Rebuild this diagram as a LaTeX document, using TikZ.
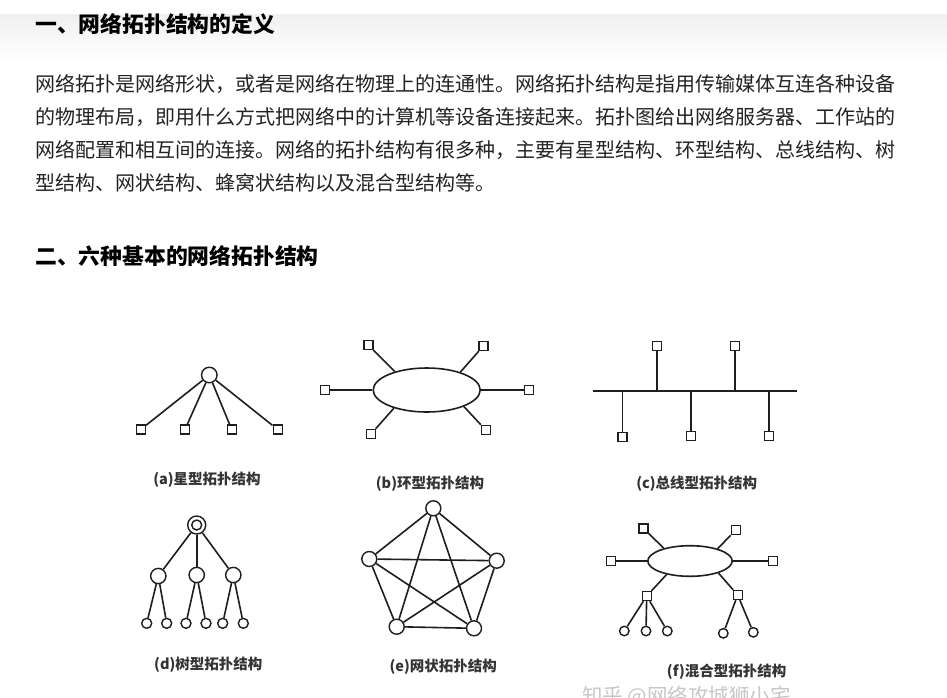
\documentclass[tikz,border=0pt]{standalone}
\usepackage{fontspec}
\setmainfont{Noto Sans CJK SC}
\usetikzlibrary{shapes.geometric}
\definecolor{ink}{HTML}{1E1E1E}
\definecolor{txt}{HTML}{222222}
\definecolor{cap}{HTML}{333333}
\begin{document}
\begin{tikzpicture}[x=1pt,y=-1pt,
  ln/.style={draw=ink, line width=1.6pt},
  sq/.style={rectangle, draw=ink, line width=1.4pt, fill=white, minimum size=9pt, inner sep=0pt},
  ctr/.style={circle, draw=ink, line width=1.4pt, fill=white, inner sep=0pt},
  ringshape/.style={ellipse, draw=ink, line width=1.6pt, fill=white, inner sep=0pt},
  para/.style={anchor=base west, inner sep=0pt, text=txt, font=\fontsize{20}{24}\selectfont},
  head/.style={anchor=base west, inner sep=0pt, text=black, font=\fontsize{21.8}{26}\selectfont\bfseries},
  capt/.style={inner sep=0pt, text=cap, font=\fontsize{14.5}{16}\selectfont\bfseries}]
\useasboundingbox (0,0) rectangle (947,697);
\clip (0,0) rectangle (947,697);
\fill[white] (0,0) rectangle (947,697);
\shade[top color=black!6, bottom color=white] (0,14) rectangle (947,62);

% headings and text
\node[head] (h1) at (35,32.5) {一、网络拓扑结构的定义};
\node[para] (p1) at (35,91.5) {网络拓扑是网络形状，或者是网络在物理上的连通性。网络拓扑结构是指用传输媒体互连各种设备};
\node[para] (p2) at (35,124.5) {的物理布局，即用什么方式把网络中的计算机等设备连接起来。拓扑图给出网络服务器、工作站的};
\node[para] (p3) at (35,157.5) {网络配置和相互间的连接。网络的拓扑结构有很多种，主要有星型结构、环型结构、总线结构、树};
\node[para] (p4) at (35,190.5) {型结构、网状结构、蜂窝状结构以及混合型结构等。};
\node[head] (h2) at (35,264.5) {二、六种基本的网络拓扑结构};

% (a) star
\node[ctr, minimum size=15.5pt] (aH) at (209.3,375) {};
\node[sq] (a1) at (140.7,429.5) {};
\node[sq] (a2) at (185,429.5) {};
\node[sq] (a3) at (231.7,429.5) {};
\node[sq] (a4) at (277.7,429.5) {};
\foreach \t in {a1,a2,a3,a4} \draw[ln] (aH) -- (\t);
\node[capt] (aL) at (207,480) {(a)星型拓扑结构};

% (b) ring
\node[ringshape, minimum width=107pt, minimum height=44pt] (bE) at (426.7,390) {};
\node[sq] (bL) at (325,390) {};
\node[sq] (bR) at (529,390) {};
\node[sq] (bTL) at (368.3,345) {};
\node[sq] (bTR) at (483.3,346) {};
\node[sq] (bBL) at (371,434) {};
\node[sq] (bBR) at (485.7,430) {};
\draw[ln] (bL) -- (bE.180);
\draw[ln] (bR) -- (bE.0);
\draw[ln] (bTL) -- (bE.150);
\draw[ln] (bTR) -- (bE.28);
\draw[ln] (bBL) -- (bE.209);
\draw[ln] (bBR) -- (bE.336);
\node[capt] (bLab) at (430,484) {(b)环型拓扑结构};

% (c) bus
\coordinate (cA) at (592.7,391);
\coordinate (cZ) at (797.3,391);
\draw[ln] (cA) -- (cZ);
\node[sq] (cT1) at (656.7,345.7) {};
\node[sq] (cT2) at (735,345.7) {};
\node[sq] (cB1) at (622.3,437) {};
\node[sq] (cB2) at (691,436) {};
\node[sq] (cB3) at (769,436) {};
\foreach \t in {cT1,cT2,cB1,cB2,cB3} \draw[ln] (\t) -- (\t |- cA);
\node[capt] (cL) at (696.7,484) {(c)总线型拓扑结构};

% (d) tree
\node[ctr, minimum size=18pt] (dR) at (196.7,525) {};
\node[ctr, minimum size=10pt] (dRi) at (196.7,525) {};
\node[ctr, minimum size=15.3pt] (dM1) at (158.3,576) {};
\node[ctr, minimum size=15.3pt] (dM2) at (196.7,575) {};
\node[ctr, minimum size=15.3pt] (dM3) at (233.3,575) {};
\node[ctr, minimum size=10pt] (dl1) at (146.7,623.3) {};
\node[ctr, minimum size=10pt] (dl2) at (166.7,623.3) {};
\node[ctr, minimum size=10pt] (dl3) at (186,623.3) {};
\node[ctr, minimum size=10pt] (dl4) at (206,623.3) {};
\node[ctr, minimum size=10pt] (dl5) at (222.7,623.3) {};
\node[ctr, minimum size=10pt] (dl6) at (243.3,623.3) {};
\draw[ln] (dR) -- (dM1);
\draw[ln] (dR) -- (dM2);
\draw[ln] (dR) -- (dM3);
\draw[ln] (dM1) -- (dl1);
\draw[ln] (dM1) -- (dl2);
\draw[ln] (dM2) -- (dl3);
\draw[ln] (dM2) -- (dl4);
\draw[ln] (dM3) -- (dl5);
\draw[ln] (dM3) -- (dl6);
\node[capt] (dL) at (208.3,665) {(d)树型拓扑结构};

% (e) mesh
\node[ctr, minimum size=15pt] (e1) at (433.3,508.3) {};
\node[ctr, minimum size=15pt] (e2) at (369.3,559) {};
\node[ctr, minimum size=15pt] (e3) at (496.7,560.7) {};
\node[ctr, minimum size=15pt] (e4) at (396.7,626.7) {};
\node[ctr, minimum size=15pt] (e5) at (474,628.3) {};
\foreach \u/\v in {e1/e2,e1/e3,e1/e4,e1/e5,e2/e3,e2/e4,e2/e5,e3/e4,e3/e5,e4/e5}
  \draw[ln] (\u) -- (\v);
\node[capt] (eL) at (443.3,666.7) {(e)网状拓扑结构};

% (f) hybrid
\node[ringshape, minimum width=84.4pt, minimum height=30.6pt] (fE) at (690,561) {};
\node[sq] (fTL) at (643.3,528.3) {};
\node[sq] (fTR) at (735.7,530) {};
\node[sq] (fL) at (610.7,561) {};
\node[sq] (fR) at (772.7,561) {};
\node[sq] (fBL) at (646.7,596) {};
\node[sq] (fBR) at (737.7,595) {};
\draw[ln] (fL) -- (fE.180);
\draw[ln] (fR) -- (fE.0);
\draw[ln] (fTL) -- (fE.154);
\draw[ln] (fTR) -- (fE.24);
\draw[ln] (fBL) -- (fE.210);
\draw[ln] (fBR) -- (fE.337);
\node[ctr, minimum size=9.5pt] (fl1) at (624.3,631) {};
\node[ctr, minimum size=9.5pt] (fl2) at (646,631) {};
\node[ctr, minimum size=9.5pt] (fl3) at (667.3,631) {};
\node[ctr, minimum size=9.5pt] (fl4) at (723.3,633.3) {};
\node[ctr, minimum size=9.5pt] (fl5) at (753.3,632.3) {};
\draw[ln] (fBL) -- (fl1);
\draw[ln] (fBL) -- (fl2);
\draw[ln] (fBL) -- (fl3);
\draw[ln] (fBR) -- (fl4);
\draw[ln] (fBR) -- (fl5);
\node[capt] (fLab) at (726.7,671.7) {(f)混合型拓扑结构};

% watermark (cut by the lower edge, as in the reference)
\node[anchor=base west, inner sep=0pt, text=black!22, font=\fontsize{20.5}{24}\selectfont] (wm) at (582,703) {知乎 @网络攻城狮小宅};
\end{tikzpicture}
\end{document}
